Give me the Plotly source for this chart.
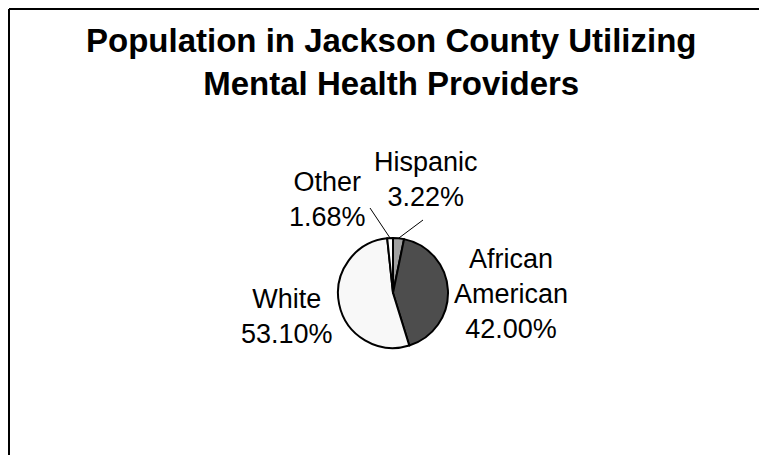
import numpy as np
import plotly.graph_objects as go

# data
groups = ['Hispanic', 'African American', 'White', 'Other']
shares = [3.22, 42.00, 53.10, 1.68]
label_text = ['Hispanic<br>3.22%', 'African<br>American<br>42.00%',
              'White<br>53.10%', 'Other<br>1.68%']
slice_colors = ['#a0a0a0', '#4d4d4d', '#f8f8f8', '#ffffff']

# the page body has an 8px margin, so the figure is a bit smaller than the window
PAD = 8
WIN_W, WIN_H = 767, 463
W, H = WIN_W - 2 * PAD, WIN_H - 2 * PAD

# everything below is in window pixels
cx, cy, r = 393, 293, 55
label_pos = [(426, 179), (511, 294), (287, 316), (327, 199)]
leader_from = [(423, 220), None, None, (370, 208)]

fig = go.Figure()
fig.add_trace(go.Pie(
    labels=groups, values=shares, sort=False, direction='clockwise',
    rotation=0, textinfo='none', hoverinfo='label+percent',
    marker=dict(colors=slice_colors, line=dict(color='black', width=2)),
    domain=dict(x=[(cx - r - PAD) / W, (cx + r - PAD) / W],
                y=[1 - (cy + r - PAD) / H, 1 - (cy - r - PAD) / H]),
    showlegend=False,
))

# leader lines: from label to the middle of the slice edge
frac = np.array(shares) / sum(shares)
mid = (np.cumsum(frac) - frac / 2) * 2 * np.pi
for i, start in enumerate(leader_from):
    if start is None:
        continue
    ex = cx + r * np.sin(mid[i])
    ey = cy - r * np.cos(mid[i])
    fig.add_trace(go.Scatter(x=[start[0], ex], y=[start[1], ey], mode='lines',
                             line=dict(color='black', width=1),
                             hoverinfo='skip', showlegend=False))

for txt, (lx, ly) in zip(label_text, label_pos):
    fig.add_annotation(x=lx, y=ly, xref='x', yref='y', text=txt, showarrow=False,
                       font=dict(family='Liberation Sans, Arial', size=27, color='black'),
                       align='center', xanchor='center', yanchor='middle')

# title
fig.add_annotation(x=391, y=62, xref='x', yref='y',
                   text='<b>Population in Jackson County Utilizing<br>Mental Health Providers</b>',
                   showarrow=False, align='center', xanchor='center', yanchor='middle',
                   font=dict(family='Liberation Sans, Arial', size=33, color='black'))

# chart border: only the top and left edges show in the crop
fig.add_shape(type='line', xref='x', yref='y', x0=9, y0=9, x1=WIN_W, y1=9,
              line=dict(color='black', width=2), layer='below')
fig.add_shape(type='line', xref='x', yref='y', x0=9, y0=9, x1=9, y1=WIN_H,
              line=dict(color='black', width=2), layer='below')

fig.update_layout(
    width=W, height=H, autosize=False,
    margin=dict(l=0, r=0, t=0, b=0),
    paper_bgcolor='white', plot_bgcolor='white',
    xaxis=dict(range=[PAD, PAD + W], visible=False, fixedrange=True),
    yaxis=dict(range=[PAD + H, PAD], visible=False, fixedrange=True),
)

fig.write_html("out.html")
